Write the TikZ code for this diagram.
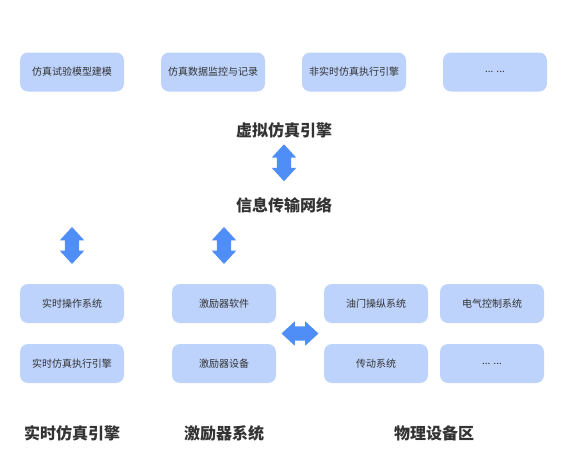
\documentclass[tikz,border=0pt]{standalone}
\usepackage{fontspec}
\setmainfont{Noto Sans CJK SC}
\usetikzlibrary{shapes.arrows,positioning,calc}
\definecolor{boxblue}{RGB}{189,211,252}
\definecolor{arrblue}{RGB}{79,141,247}
\definecolor{txtgray}{RGB}{51,51,51}
\tikzset{
 m/.style
  = {rectangle, fill=boxblue, rounded corners=8pt, minimum width=104pt,
     minimum height=39pt, inner sep=0pt, text=txtgray,
     font=\fontsize{10}{12}\selectfont},
 t/.style
  = {text=txtgray, inner sep=0pt, font=\fontsize{16}{18}\selectfont\bfseries},
 v/.style
  = {double arrow, fill=arrblue, inner sep=7pt, shape border rotate=90,
     minimum height=37pt, double arrow head extend=5pt,
     double arrow tip angle=85},
 h/.style
  = {v, shape border rotate=0},
}

\begin{document}
\begin{tikzpicture}[x=1pt,y=-1pt]
\useasboundingbox (0,0) rectangle (568,448);

% Virtual simulation modules
\node[m] (model) at (72,72) {仿真试验模型建模};
\node[m] (monitor) at (213,72) {仿真数据监控与记录};
\node[m] (nrt) at (354,72) {非实时仿真执行引擎};
\node[m] (more1) at (495,72) {... ...};

% Engine and network
\node[t] (vr) at (284,130) {虚拟仿真引擎};
\node[t] (net) at (284,205) {信息传输网络};
\path (vr) -- node[v, pos=0.42] (vrnet) {} (net);

% Arrows to the lower groups
\node[v] (arrRT) at (72,245.5) {};
\node[v] (arrST) at (224,245.5) {};

% Real-time engine
\node[m] (rtOp) at (72,303.5) {实时操作系统};
\node[m] (rtEx) at (72,363.5) {实时仿真执行引擎};

% Stimulator
\node[m] (stimS) at (224,303.5) {激励器软件};
\node[m] (stimD) at (224,363.5) {激励器设备};

% Physical devices
\node[m] (oil) at (376,303.5) {油门操纵系统};
\node[m] (elec) at (492,303.5) {电气控制系统};
\node[m] (drive) at (376,363.5) {传动系统};
\node[m] (more2) at (492,363.5) {... ...};

\path ($(stimS.east)!.5!(stimD.east)$) -- node[h] (stimphy) {}
      ($(oil.west)!.5!(drive.west)$);

% Group labels
\node[t] (lblRT) at (72,433) {实时仿真引擎};
\node[t] (lblST) at (224,433) {激励器系统};
\node[t] (lblPH) at (434,433) {物理设备区};

\end{tikzpicture}
\end{document}
